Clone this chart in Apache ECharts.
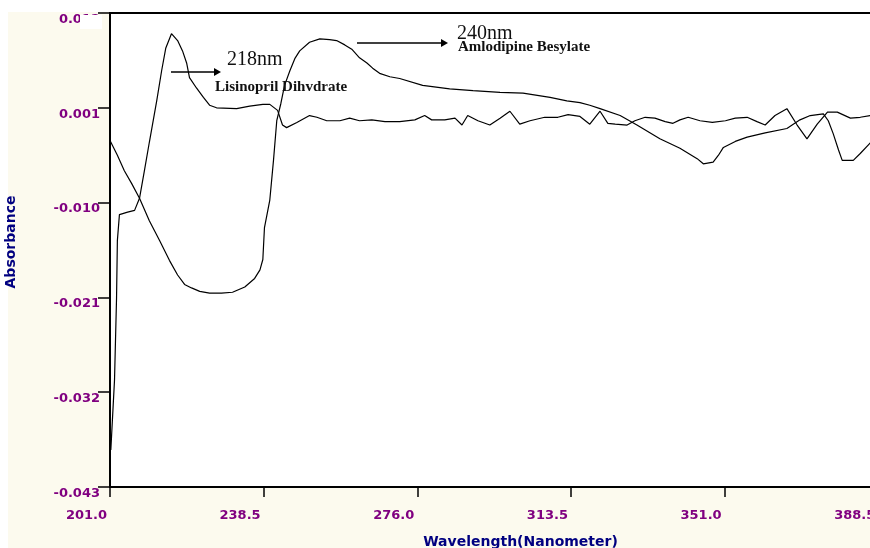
<!DOCTYPE html>
<html>
<head>
<meta charset="utf-8">
<script src="https://cdn.jsdelivr.net/npm/echarts@6/dist/echarts.min.js"></script>
<style>
html,body{margin:0;padding:0;background:#fff;}
#chart{width:870px;height:548px;}
</style>
</head>
<body>
<div id="chart"></div>
<script>
// Tick values
const xTicks = [201.0, 238.5, 276.0, 313.5, 351.0, 388.5];
const yTicks = [-0.043, -0.032, -0.021, -0.010, 0.001, 0.012];

// Lisinopril Dihydrate spectrum
const lisinoprilWavelength = [201.2,202.1,202.6,202.8,203.3,205.3,207.0,208.2,209.4,210.6,212.4,213.6,214.6,216.0,217.5,218.7,219.7,220.4,222.1,223.8,225.3,227.0,231.9,235.1,238.3,240.0,241.9,243.1,244.1,246.6,249.7,251.5,253.9,257.1,259.5,261.9,264.9,268.1,271.7,275.4,277.8,279.5,282.7,285.2,286.9,288.3,290.8,293.7,296.2,298.6,301.0,303.5,307.1,310.3,312.8,315.7,318.1,320.6,322.5,324.3,327.2,329.1,331.6,334.0,336.5,338.4,340.1,342.1,345.0,348.0,351.2,353.6,356.5,358.9,360.9,363.3,366.2,368.7,371.1,373.6,376.1,378.5,381.7,384.1,386.5,388.0];
const lisinoprilAbsorbance = [-0.0387,-0.0306,-0.0210,-0.0144,-0.0114,-0.0111,-0.0109,-0.0095,-0.0063,-0.0030,0.0018,0.0053,0.0079,0.0096,0.0088,0.0076,0.0062,0.0045,0.0033,0.0022,0.0013,0.0010,0.0009,0.0012,0.0014,0.0014,0.0007,-0.0010,-0.0013,-0.0007,0.0001,-0.0001,-0.0005,-0.0005,-0.0002,-0.0005,-0.0004,-0.0006,-0.0006,-0.0004,0.0001,-0.0004,-0.0004,-0.0002,-0.0010,0.0001,-0.0005,-0.0010,-0.0002,0.0006,-0.0009,-0.0005,-0.0001,-0.0001,0.0002,0.0000,-0.0009,0.0006,-0.0008,-0.0009,-0.0010,-0.0005,-0.0001,-0.0002,-0.0006,-0.0008,-0.0004,-0.0001,-0.0005,-0.0007,-0.0005,-0.0002,-0.0001,-0.0006,-0.0010,0.0001,0.0009,-0.0010,-0.0026,-0.0009,0.0005,0.0005,-0.0002,-0.0001,0.0001,0.0001];

// Amlodipine Besylate spectrum
const amlodipineWavelength = [201.0,202.8,204.5,206.3,208.2,210.6,213.1,215.5,217.5,219.2,220.9,222.9,225.3,228.2,230.9,233.9,236.3,237.6,238.3,238.7,240.0,240.9,241.7,242.7,243.6,244.9,246.1,247.3,249.7,252.2,254.6,256.3,258.3,260.0,261.9,263.7,265.1,266.8,269.3,271.7,277.3,283.9,289.6,296.2,301.8,308.4,312.5,315.7,318.1,320.6,325.5,329.6,335.2,340.1,344.3,345.8,348.2,349.5,350.7,353.6,356.5,360.9,366.2,369.4,371.9,375.1,376.3,377.5,378.8,379.7,382.4,384.1,386.5,388.0];
const amlodipineAbsorbance = [-0.0028,-0.0045,-0.0063,-0.0078,-0.0095,-0.0121,-0.0144,-0.0167,-0.0184,-0.0195,-0.0199,-0.0203,-0.0205,-0.0205,-0.0204,-0.0198,-0.0188,-0.0178,-0.0166,-0.0129,-0.0097,-0.0051,-0.0005,0.0015,0.0036,0.0053,0.0067,0.0076,0.0086,0.0090,0.0089,0.0088,0.0083,0.0078,0.0068,0.0062,0.0056,0.0050,0.0046,0.0044,0.0036,0.0032,0.0030,0.0028,0.0027,0.0022,0.0018,0.0016,0.0013,0.0009,0.0001,-0.0010,-0.0026,-0.0037,-0.0049,-0.0055,-0.0053,-0.0045,-0.0036,-0.0029,-0.0024,-0.0019,-0.0014,-0.0004,0.0001,0.0003,-0.0005,-0.0020,-0.0039,-0.0051,-0.0051,-0.0043,-0.0031,-0.0024];

const pairs = (xs, ys) => xs.map((x, i) => [x, ys[i]]);

const labelStyle = {
  color: '#800080',
  fontWeight: 'bold',
  fontFamily: 'DejaVu Sans',
  fontSize: 13
};

const chart = echarts.init(document.getElementById('chart'), null, {renderer: 'canvas'});
chart.setOption({
  animation: false,
  backgroundColor: '#fcfaee',
  grid: {
    left: 110, top: 13, right: -39, bottom: 61,
    outerBoundsMode: 'none', containLabel: false,
    show: true, backgroundColor: '#ffffff', borderColor: '#000', borderWidth: 2
  },
  xAxis: {
    type: 'value', min: 201, max: 396,
    name: 'Wavelength(Nanometer)', nameLocation: 'middle', nameGap: 48,
    nameTextStyle: {color: '#000080', fontWeight: 'bold', fontFamily: 'DejaVu Sans', fontSize: 14, padding: [0, 0, 0, 22]},
    axisLine: {show: true, onZero: false, lineStyle: {color: '#000', width: 2}},
    axisTick: {show: true, length: 10, customValues: xTicks, lineStyle: {color: '#000', width: 1.5}},
    axisLabel: Object.assign({}, labelStyle, {
      customValues: xTicks, align: 'right', verticalAlign: 'top', margin: 22,
      padding: [0, 3, 0, 0],
      formatter: v => v.toFixed(1)
    }),
    splitLine: {show: false}
  },
  yAxis: {
    type: 'value', min: -0.043, max: 0.012,
    name: 'Absorbance', nameLocation: 'middle', nameGap: 92, nameRotate: 90,
    nameTextStyle: {color: '#000080', fontWeight: 'bold', fontFamily: 'DejaVu Sans', fontSize: 14, padding: [0, 0, 0, 16]},
    axisLine: {show: true, onZero: false, lineStyle: {color: '#000', width: 2}},
    axisTick: {show: true, length: 12, customValues: yTicks, lineStyle: {color: '#000', width: 1.5}},
    axisLabel: Object.assign({}, labelStyle, {
      customValues: yTicks, align: 'right', verticalAlign: 'top', margin: 10,
      formatter: v => v.toFixed(3)
    }),
    splitLine: {show: false}
  },
  series: [
    {
      name: 'Lisinopril Dihydrate', type: 'line', data: pairs(lisinoprilWavelength, lisinoprilAbsorbance),
      showSymbol: false, symbol: 'none', smooth: false,
      lineStyle: {color: '#000', width: 1.2}
    },
    {
      name: 'Amlodipine Besylate', type: 'line', data: pairs(amlodipineWavelength, amlodipineAbsorbance),
      showSymbol: false, symbol: 'none', smooth: false,
      lineStyle: {color: '#000', width: 1.2}
    }
  ],
  graphic: [
    {type: 'rect', shape: {x: 0, y: 0, width: 870, height: 12}, style: {fill: '#fff'}, z: -1, silent: true},
    {type: 'rect', shape: {x: 0, y: 0, width: 8, height: 548}, style: {fill: '#fff'}, z: -1, silent: true},
    {type: 'rect', shape: {x: 80, y: 15, width: 22, height: 14}, style: {fill: '#fff'}, z: 100, silent: true},
    // 218nm annotation
    {type: 'line', shape: {x1: 171, y1: 72, x2: 216, y2: 72}, style: {stroke: '#000', lineWidth: 1.3}, z: 100},
    {type: 'polygon', shape: {points: [[214, 68], [221, 72], [214, 76]]}, style: {fill: '#000'}, z: 100},
    {type: 'text', x: 227, y: 50, style: {text: '218nm', font: '20px "Liberation Serif"', fill: '#111', verticalAlign: 'top'}, z: 100},
    {type: 'text', x: 215, y: 80, style: {text: 'Lisinopril Dihvdrate', font: 'bold 15px "Liberation Serif"', fill: '#111', verticalAlign: 'top'}, z: 100},
    // 240nm annotation
    {type: 'line', shape: {x1: 357, y1: 43, x2: 443, y2: 43}, style: {stroke: '#000', lineWidth: 1.3}, z: 100},
    {type: 'polygon', shape: {points: [[441, 39], [448, 43], [441, 47]]}, style: {fill: '#000'}, z: 100},
    {type: 'text', x: 457, y: 24, style: {text: '240nm', font: '20px "Liberation Serif"', fill: '#111', verticalAlign: 'top'}, z: 100},
    {type: 'text', x: 458, y: 40, style: {text: 'Amlodipine Besylate', font: 'bold 15px "Liberation Serif"', fill: '#111', verticalAlign: 'top'}, z: 100}
  ]
});
</script>
</body>
</html>
